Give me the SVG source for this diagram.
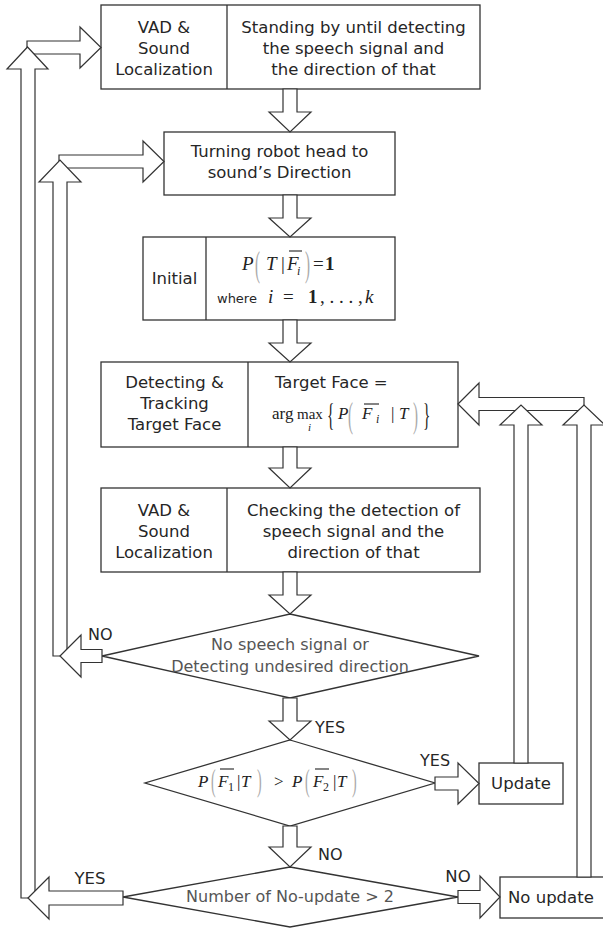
<svg xmlns="http://www.w3.org/2000/svg" width="603" height="928" viewBox="0 0 603 928">
<style>
.bx{fill:#fff;stroke:#333;stroke-width:1.3}
.dv{stroke:#333;stroke-width:1.3}
.ar{fill:#fff;stroke:#333;stroke-width:1.2;stroke-linejoin:miter}
.t{font-family:"DejaVu Sans","Liberation Sans",sans-serif;font-size:16.5px;fill:#262626;text-anchor:middle}
.dt{fill:#555;font-size:16px}
.lb{font-family:"DejaVu Sans","Liberation Sans",sans-serif;font-size:16px;fill:#262626}
.m{font-family:"Liberation Serif","Times New Roman",serif;font-size:19px;fill:#222}
.m17{font-size:17px}
.i{font-style:italic}
.b{font-weight:bold}
.sub{font-size:12px}
.pr{fill:#aaa;font-size:20px}
.ol{stroke:#333;stroke-width:1.2}
</style>
<rect width="603" height="928" fill="#fff"/>

<g id="n1">
<rect class="bx" x="101" y="5" width="379" height="84"/>
<line class="dv" x1="227" y1="5" x2="227" y2="89"/>
<text class="t" x="164" y="33">VAD &amp;</text>
<text class="t" x="164" y="54">Sound</text>
<text class="t" x="164" y="75">Localization</text>
<text class="t" x="353.5" y="33">Standing by until detecting</text>
<text class="t" x="353.5" y="54">the speech signal and</text>
<text class="t" x="353.5" y="75">the direction of that</text>
</g>

<g id="n2">
<rect class="bx" x="164" y="132" width="231" height="63"/>
<text class="t" x="279.5" y="157">Turning robot head to</text>
<text class="t" x="279.5" y="178">sound’s Direction</text>
</g>

<g id="n3">
<rect class="bx" x="143" y="237" width="252" height="83"/>
<line class="dv" x1="206" y1="237" x2="206" y2="320"/>
<text class="t" x="174.5" y="284">Initial</text>
<text class="m i" x="242" y="270">P</text>
<text class="m pr" transform="translate(255,276) scale(0.75,1.75)">(</text>
<text class="m i" x="266" y="270">T</text>
<text class="m" x="281" y="270">|</text>
<text class="m i" x="287" y="270">F</text>
<line class="ol" x1="289" y1="251" x2="302" y2="251"/>
<text class="m i sub" x="297" y="275">i</text>
<text class="m pr" transform="translate(305,276) scale(0.75,1.75)">)</text>
<text class="m" x="313" y="270">=</text>
<text class="m b" x="325" y="270">1</text>
<text class="lb" x="217" y="303" style="font-size:13px">where</text>
<text class="m i" x="268" y="303">i</text>
<text class="m" x="283" y="303">=</text>
<text class="m b" x="308" y="303">1</text>
<text class="m" x="320" y="303">, . . . ,</text>
<text class="m i" x="365" y="303">k</text>
</g>

<g id="n4">
<rect class="bx" x="101" y="362" width="357" height="85"/>
<line class="dv" x1="248" y1="362" x2="248" y2="447"/>
<text class="t" x="174.5" y="388">Detecting &amp;</text>
<text class="t" x="174.5" y="409">Tracking</text>
<text class="t" x="174.5" y="430">Target Face</text>
<text class="lb" x="275" y="388" style="font-size:16.5px">Target Face =</text>
<text class="m m17" x="272" y="419">arg</text>
<text class="m" x="297" y="419" style="font-size:15px">max</text>
<text class="m i" x="308" y="431" style="font-size:11px">i</text>
<text class="m" transform="translate(327,426) scale(0.9,1.8)" style="font-size:17px">{</text>
<text class="m i m17" x="338" y="419">P</text>
<text class="m pr" transform="translate(348,427) scale(0.75,1.75)">(</text>
<text class="m i m17" x="362" y="419">F</text>
<line class="ol" x1="364" y1="404" x2="379" y2="404"/>
<text class="m i sub" x="376" y="423">i</text>
<text class="m m17" x="391" y="419">|</text>
<text class="m i m17" x="399" y="419">T</text>
<text class="m pr" transform="translate(413,427) scale(0.75,1.75)">)</text>
<text class="m" transform="translate(423,426) scale(0.9,1.8)" style="font-size:17px">}</text>
</g>

<g id="n5">
<rect class="bx" x="101" y="488" width="379" height="84"/>
<line class="dv" x1="227" y1="488" x2="227" y2="572"/>
<text class="t" x="164" y="516">VAD &amp;</text>
<text class="t" x="164" y="537">Sound</text>
<text class="t" x="164" y="558">Localization</text>
<text class="t" x="353.5" y="516">Checking the detection of</text>
<text class="t" x="353.5" y="537">speech signal and the</text>
<text class="t" x="353.5" y="558">direction of that</text>
</g>

<g id="d1">
<polygon class="bx" points="290,614 479,656 290,698 102,656"/>
<text class="t dt" x="290" y="650">No speech signal or</text>
<text class="t dt" x="290" y="672">Detecting undesired direction</text>
</g>

<g id="d2">
<polygon class="bx" points="290,740 435,783 290,826 145,783"/>
<text class="m i m17" x="198" y="787">P</text>
<text class="m pr" transform="translate(211,791) scale(0.7,1.6)">(</text>
<text class="m i m17" x="218" y="787">F</text>
<line class="ol" x1="220" y1="769" x2="234" y2="769"/>
<text class="m sub" x="228" y="791">1</text>
<text class="m m17" x="237" y="787">|</text>
<text class="m i m17" x="241" y="787">T</text>
<text class="m pr" transform="translate(257,791) scale(0.7,1.6)">)</text>
<text class="m m17" x="274" y="787">&gt;</text>
<text class="m i m17" x="292" y="787">P</text>
<text class="m pr" transform="translate(305,791) scale(0.7,1.6)">(</text>
<text class="m i m17" x="313" y="787">F</text>
<line class="ol" x1="315" y1="769" x2="329" y2="769"/>
<text class="m sub" x="323" y="791">2</text>
<text class="m m17" x="333" y="787">|</text>
<text class="m i m17" x="337" y="787">T</text>
<text class="m pr" transform="translate(352,791) scale(0.7,1.6)">)</text>
</g>

<g id="n6">
<rect class="bx" x="479" y="763" width="84" height="41"/>
<text class="t" x="521" y="789">Update</text>
</g>

<g id="d3">
<polygon class="bx" points="290,867 458,897 290,927 123,897"/>
<text class="t dt" x="290" y="902">Number of No-update &gt; 2</text>
</g>

<g id="n7">
<rect class="bx" x="500" y="877" width="106" height="41"/>
<text class="lb" x="508" y="903" style="font-size:16.5px">No update</text>
</g>

<g id="connectors">
<polygon class="ar" points="283,89 297,89 297,112 311,112 290,132 269,112 283,112"/>
<polygon class="ar" points="283,195 297,195 297,218 311,218 290,237 269,218 283,218"/>
<polygon class="ar" points="283,320 297,320 297,343 311,343 290,362 269,343 283,343"/>
<polygon class="ar" points="283,447 297,447 297,468 311,468 290,488 269,468 283,468"/>
<polygon class="ar" points="283,572 297,572 297,595 311,595 290,614 269,595 283,595"/>
<polygon class="ar" points="283,698 297,698 297,721 311,721 290,740 269,721 283,721"/>
<polygon class="ar" points="283,826 297,826 297,847 311,847 290,867 269,847 283,847"/>

<polygon class="ar" points="27,41 80,41 80,27 101,47.5 80,68 80,54 27,54"/>
<polygon class="ar" points="59,155 143,155 143,141 164,161.5 143,182 143,168 59,168"/>
<polygon class="ar" points="7,69 27.5,47 48,69 35,69 35,898 21,898 21,69"/>
<polygon class="ar" points="39,182 60,160 81,182 67,182 67,656 53,656 53,182"/>
<polygon class="ar" points="60,656 81,635 81,649.5 102,649.5 102,662.5 81,662.5 81,677"/>
<polygon class="ar" points="28,898 49,877 49,891 123,891 123,905 49,905 49,919"/>

<polygon class="ar" points="458,404 479,383 479,397.5 584,397.5 584,410.5 479,410.5 479,425"/>
<polygon class="ar" points="500,425 521,405 542,425 528,425 528,763 514,763 514,425"/>
<polygon class="ar" points="563,425 584,405 605,425 591,425 591,877 577,877 577,425"/>
<polygon class="ar" points="435,777 458,777 458,763 479,783.5 458,804 458,790 435,790"/>
<polygon class="ar" points="458,890.5 480,890.5 480,876 500,897 480,918 480,903.5 458,903.5"/>

<text class="lb" x="88" y="640">NO</text>
<text class="lb" x="315" y="733">YES</text>
<text class="lb" x="420" y="766">YES</text>
<text class="lb" x="318" y="860">NO</text>
<text class="t" x="90" y="884">YES</text>
<text class="t" x="458" y="882">NO</text>
</g>
</svg>
